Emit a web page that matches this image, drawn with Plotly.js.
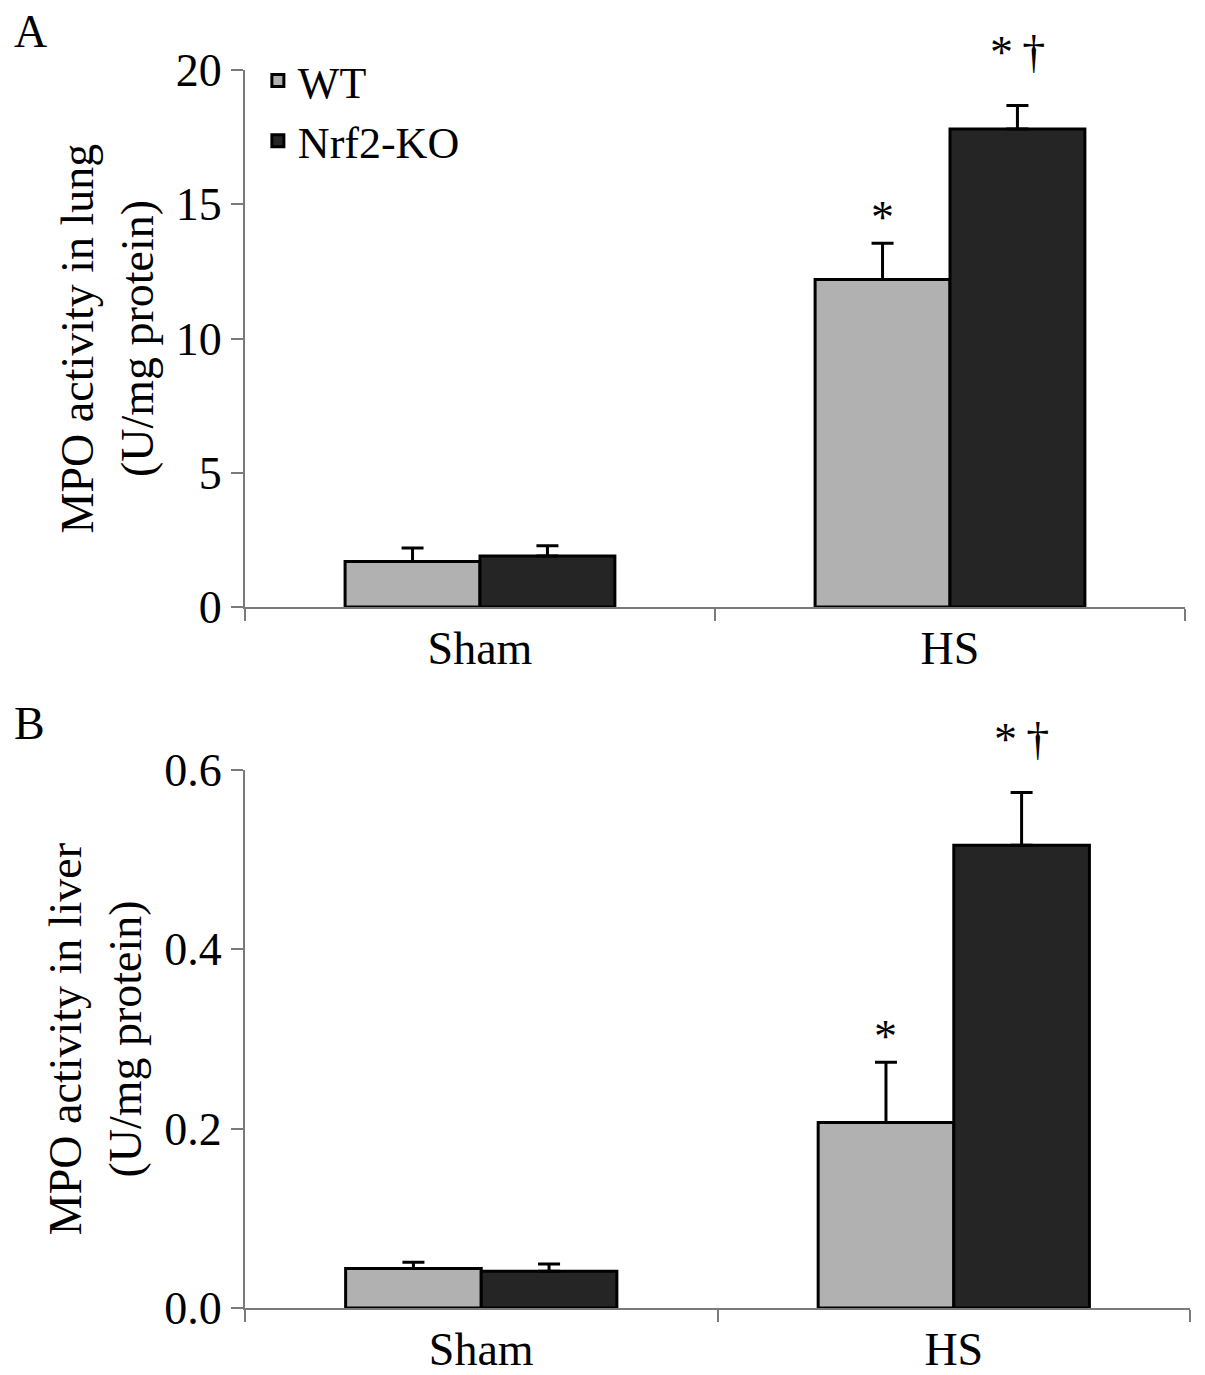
<!DOCTYPE html>
<html>
<head>
<meta charset="utf-8">
<script src="https://cdn.plot.ly/plotly-3.0.1.min.js"></script>
<style>
  html, body { margin: 0; padding: 0; background: #fff; }
  #grafico { width: 1205px; height: 1375px; }
</style>
</head>
<body>
<div id="grafico"></div>
<script>
// categorias e valores
const grupos = ['Sham', 'HS'];
const seriesNomes = ['WT', 'Nrf2-KO'];

const pulmaoWT = [1.7, 12.2];
const pulmaoWTErro = [0.5, 1.35];
const pulmaoKO = [1.9, 17.8];
const pulmaoKOErro = [0.38, 0.88];

const figadoWT = [0.044, 0.207];
const figadoWTErro = [0.007, 0.067];
const figadoKO = [0.041, 0.516];
const figadoKOErro = [0.008, 0.059];

const ticksPulmao = [0, 5, 10, 15, 20];
const ticksPulmaoTexto = ['0', '5', '10', '15', '20'];
const ticksFigado = [0, 0.2, 0.4, 0.6];
const ticksFigadoTexto = ['0.0', '0.2', '0.4', '0.6'];

const fonte = '"Liberation Serif", "Times New Roman", serif';
const corWT = '#b1b1b1';
const corKO = '#252525';
const corEixo = '#7a7a7a';

function barra(nome, y, erro, cor, eixoX, eixoY, legenda) {
  return {
    type: 'bar',
    name: nome,
    x: grupos,
    y: y,
    xaxis: eixoX,
    yaxis: eixoY,
    showlegend: legenda,
    marker: { color: cor, line: { color: '#000', width: 3 } },
    error_y: {
      type: 'data',
      symmetric: false,
      array: erro,
      arrayminus: grupos.map(() => 0),
      color: '#000',
      thickness: 3,
      width: 11
    },
    hoverinfo: 'skip'
  };
}

const traces = [
  barra(seriesNomes[0], pulmaoWT, pulmaoWTErro, corWT, 'x', 'y', true),
  barra(seriesNomes[1], pulmaoKO, pulmaoKOErro, corKO, 'x', 'y', true),
  barra(seriesNomes[0], figadoWT, figadoWTErro, corWT, 'x2', 'y2', false),
  barra(seriesNomes[1], figadoKO, figadoKOErro, corKO, 'x2', 'y2', false)
];

function eixoX(dominio, ancora) {
  return {
    domain: dominio,
    anchor: ancora,
    type: 'category',
    tickson: 'boundaries',
    ticks: 'outside',
    ticklen: 12,
    tickwidth: 2,
    tickcolor: corEixo,
    showline: true,
    linecolor: corEixo,
    linewidth: 2,
    showgrid: false,
    zeroline: false,
    tickfont: { family: fonte, size: 46, color: '#000' },
    automargin: false
  };
}

function eixoY(dominio, ancora, faixa, vals, textos, titulo) {
  return {
    domain: dominio,
    anchor: ancora,
    range: faixa,
    tickmode: 'array',
    tickvals: vals,
    ticktext: textos,
    ticks: 'outside',
    ticklen: 12,
    tickwidth: 2,
    tickcolor: corEixo,
    showline: true,
    linecolor: corEixo,
    linewidth: 2,
    showgrid: false,
    zeroline: false,
    tickfont: { family: fonte, size: 46, color: '#000' },
    title: { text: titulo, font: { family: fonte, size: 46, color: '#000' }, standoff: 8 },
    automargin: false
  };
}

// marcas de significância acima das barras do grupo HS
const desloc = 0.1435;
function marca(texto, x, y, eixoX, eixoY, sobe) {
  return {
    text: texto, x: x, y: y, xref: eixoX, yref: eixoY,
    showarrow: false, yanchor: 'bottom', yshift: sobe,
    font: { family: fonte, size: 46, color: '#000' }
  };
}

const anotacoes = [
  { text: 'A', xref: 'paper', yref: 'paper', x: 0.01, y: 0.997, xanchor: 'left', yanchor: 'top',
    showarrow: false, font: { family: fonte, size: 46, color: '#000' } },
  { text: 'B', xref: 'paper', yref: 'paper', x: 0.01, y: 0.494, xanchor: 'left', yanchor: 'top',
    showarrow: false, font: { family: fonte, size: 46, color: '#000' } },
  marca('*', 1 - desloc, pulmaoWT[1] + pulmaoWTErro[1], 'x', 'y', -2),
  marca('*\u2009\u2020', 1 + desloc, pulmaoKO[1] + pulmaoKOErro[1], 'x', 'y', 25),
  marca('*', 1 - desloc, figadoWT[1] + figadoWTErro[1], 'x2', 'y2', -2),
  marca('*\u2009\u2020', 1 + desloc, figadoKO[1] + figadoKOErro[1], 'x2', 'y2', 25)
];

const layout = {
  width: 1205,
  height: 1375,
  margin: { l: 0, r: 0, t: 0, b: 0 },
  paper_bgcolor: '#fff',
  plot_bgcolor: 'rgba(0,0,0,0)',
  barmode: 'group',
  bargap: 0.426,
  bargroupgap: 0,
  font: { family: fonte, color: '#000' },
  xaxis: eixoX([0.2033, 0.9834], 'y'),
  yaxis: eixoY([0.5585, 0.9491], 'x', [0, 20], ticksPulmao, ticksPulmaoTexto,
    'MPO activity in lung<br>(U/mg protein)'),
  xaxis2: eixoX([0.2033, 0.9876], 'y2'),
  yaxis2: eixoY([0.0487, 0.44], 'x2', [0, 0.6], ticksFigado, ticksFigadoTexto,
    'MPO activity in liver<br>(U/mg protein)'),
  legend: {
    x: 0.214, y: 0.967, xanchor: 'left', yanchor: 'top',
    bgcolor: 'rgba(0,0,0,0)',
    font: { family: fonte, size: 44, color: '#000' },
    itemwidth: 30,
    tracegroupgap: 0
  },
  annotations: anotacoes
};

Plotly.newPlot('grafico', traces, layout, { displayModeBar: false, staticPlot: true });
</script>
</body>
</html>
